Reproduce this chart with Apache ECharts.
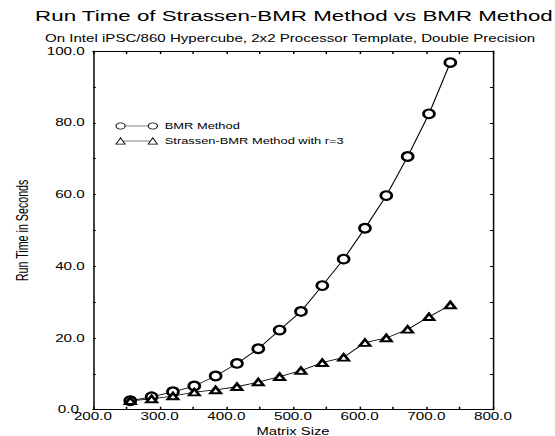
<!DOCTYPE html>
<html>
<head>
<meta charset="utf-8">
<script src="https://cdn.jsdelivr.net/npm/echarts@6/dist/echarts.min.js"></script>
<style>
html, body { margin: 0; padding: 0; background: #fff; overflow: hidden; }
#wrap { width: 555px; height: 436px; overflow: hidden; }
#chart { width: 375px; height: 436px; transform: scaleX(1.48); transform-origin: 0 0; }
</style>
</head>
<body>
<div id="wrap"><div id="chart"></div></div>
<script>
// ---- data ----
var titleText = 'Run Time of Strassen-BMR Method vs BMR Method';
var subtitleText = 'On Intel iPSC/860 Hypercube, 2x2 Processor Template, Double Precision';
var xAxisName = 'Matrix Size';
var yAxisName = 'Run Time in Seconds';
var seriesNames = ['BMR Method', 'Strassen-BMR Method with r=3'];
var matrixSizes = [256, 288, 320, 352, 384, 416, 448, 480, 512, 544, 576, 608, 640, 672, 704, 736];
var bmrTimes = [2.5, 3.6, 5.0, 6.6, 9.4, 12.9, 17.0, 22.2, 27.4, 34.6, 42.0, 50.6, 59.7, 70.6, 82.5, 96.8];
var strassenTimes = [2.5, 3.0, 3.8, 4.9, 5.5, 6.4, 7.7, 9.2, 10.9, 13.1, 14.6, 18.7, 20.0, 22.4, 25.9, 29.2];
var xRange = [200, 800];
var yRange = [0, 100];

// ---- chart ----
var FONT = '"Liberation Sans", Arial, Helvetica, sans-serif';
function pairs(xs, ys) { return xs.map(function (x, i) { return [x, ys[i]]; }); }

var chart = echarts.init(document.getElementById('chart'), null, { renderer: 'svg' });

var axisCommon = {
  axisLine: { show: true, onZero: false, lineStyle: { color: '#000', width: 1 } },
  splitLine: { show: false }
};

var circleIcon = 'path://M0,4 A4,4 0 1,1 8,4 A4,4 0 1,1 0,4 Z M8,4 L28,4 M28,4 A4,4 0 1,1 36,4 A4,4 0 1,1 28,4 Z';
var triIcon = 'path://M0,8 L4,0 L8,8 Z M6,4 L30,4 M28,8 L32,0 L36,8 Z';

chart.setOption({
  animation: false,
  backgroundColor: '#fff',
  title: [
    { text: titleText, left: 198.6, top: 8, textAlign: 'center', padding: 0,
      textStyle: { fontFamily: FONT, fontSize: 15.1, fontWeight: 'normal', color: '#000' } },
    { text: subtitleText, left: 196, top: 33, textAlign: 'center', padding: 0,
      textStyle: { fontFamily: FONT, fontSize: 10.2, fontWeight: 'normal', color: '#000' } }
  ],
  legend: {
    orient: 'vertical',
    left: 78, top: 121.5, padding: 0,
    itemWidth: 28, itemHeight: 9, itemGap: 6,
    symbolKeepAspect: true,
    itemStyle: { color: '#fff', borderColor: '#000', borderWidth: 0.7 },
    textStyle: { fontFamily: FONT, fontSize: 8.7, color: '#000', lineHeight: 9 },
    data: [
      { name: seriesNames[0], icon: circleIcon },
      { name: seriesNames[1], icon: triIcon }
    ]
  },
  grid: { left: 62.8, right: 41.9, top: 51.1, bottom: 26.3, containLabel: false, outerBoundsMode: 'none' },
  xAxis: [
    Object.assign({}, axisCommon, {
      type: 'value', position: 'bottom', min: xRange[0], max: xRange[1], interval: 50,
      name: xAxisName, nameLocation: 'middle', nameGap: 17,
      nameTextStyle: { fontFamily: FONT, fontSize: 10, color: '#000' },
      axisTick: { show: true, inside: true, length: 3, lineStyle: { color: '#000' } },
      axisLabel: { show: true, margin: 2, fontFamily: FONT, fontSize: 10.3, color: '#000',
        formatter: function (v) { return v % 100 === 0 ? v.toFixed(1) : ''; } }
    }),
    Object.assign({}, axisCommon, {
      type: 'value', position: 'top', min: xRange[0], max: xRange[1], interval: 50,
      axisTick: { show: true, inside: true, length: 3, lineStyle: { color: '#000' } },
      axisLabel: { show: false }
    })
  ],
  yAxis: [
    Object.assign({}, axisCommon, {
      type: 'value', position: 'left', min: yRange[0], max: yRange[1], interval: 10,
      name: yAxisName, nameLocation: 'middle', nameGap: 32, nameRotate: 90,
      nameTextStyle: { fontFamily: FONT, fontSize: 10.7, color: '#000' },
      axisTick: { show: true, inside: true, length: 2, lineStyle: { color: '#000' } },
      axisLabel: { show: true, margin: 5.5, fontFamily: FONT, fontSize: 10.3, color: '#000',
        rich: { z: { fontFamily: FONT, fontSize: 10.3, color: '#000', padding: [0, 4, 0, 0] } },
        formatter: function (v) {
          if (v % 20 !== 0) return '';
          return v === 0 ? '{z|' + v.toFixed(1) + '}' : v.toFixed(1);
        } }
    }),
    Object.assign({}, axisCommon, {
      type: 'value', position: 'right', min: yRange[0], max: yRange[1], interval: 10,
      axisTick: { show: true, inside: true, length: 2, lineStyle: { color: '#000' } },
      axisLabel: { show: false }
    })
  ],
  series: [
    { name: seriesNames[0], type: 'line', xAxisIndex: 0, yAxisIndex: 0,
      data: pairs(matrixSizes, bmrTimes),
      symbol: 'emptyCircle', symbolSize: [7.4, 8.6],
      lineStyle: { color: '#000', width: 0.8 },
      itemStyle: { color: '#000', borderWidth: 0.7 } },
    { name: seriesNames[1], type: 'line', xAxisIndex: 0, yAxisIndex: 0,
      data: pairs(matrixSizes, strassenTimes),
      symbol: 'emptyTriangle', symbolSize: [7, 6.5],
      lineStyle: { color: '#000', width: 0.8 },
      itemStyle: { color: '#000', borderWidth: 0.7 } }
  ]
});
</script>
</body>
</html>
